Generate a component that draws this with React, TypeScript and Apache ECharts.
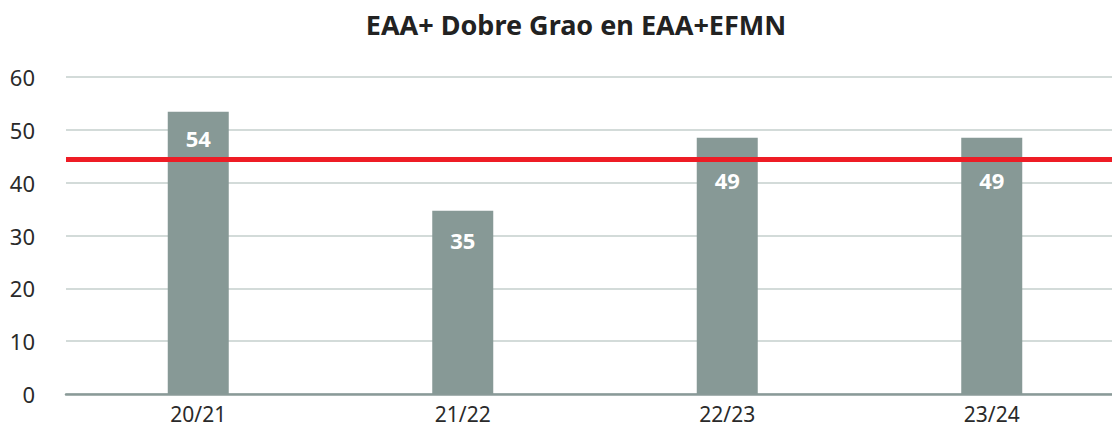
import React, { useEffect, useRef } from "react";
import * as echarts from "echarts";

const title = "EAA+ Dobre Grao en EAA+EFMN";
const categories = ["20/21", "21/22", "22/23", "23/24"];
const values = [53.4, 34.7, 48.5, 48.5];
const labels = ["54", "35", "49", "49"];
const labelDistances = [15, 18, 31, 31];
const referenceValue = 44.5;
const yTicks = { min: 0, max: 60, interval: 10 };

export default function App() {
  const ref = useRef<HTMLDivElement>(null);
  useEffect(() => {
    const chart = echarts.init(ref.current!, null, { renderer: "svg" });
    const font = "'Noto Sans', 'Open Sans', sans-serif";
    chart.setOption({
      animation: false,
      title: {
        text: title,
        left: 571,
        top: 6,
        textAlign: "center",
        textStyle: { fontFamily: font, fontSize: 27, fontWeight: "bold", color: "#222" },
      },
      grid: { left: 66, width: 1058, top: 77, bottom: 36, outerBoundsMode: "none", containLabel: false },
      xAxis: {
        type: "category",
        data: categories,
        axisTick: { show: false },
        axisLine: { lineStyle: { color: "#8a9a98", width: 2.5 } },
        axisLabel: { fontFamily: font, fontSize: 21, color: "#2a2a2a", margin: 9 },
      },
      yAxis: {
        type: "value",
        min: yTicks.min,
        max: yTicks.max,
        interval: yTicks.interval,
        axisLabel: { fontFamily: font, fontSize: 22, color: "#2a2a2a", margin: 31 },
        splitLine: { lineStyle: { color: "#c5cfcd", width: 1.5 } },
      },
      series: [
        {
          type: "bar",
          barWidth: 61,
          itemStyle: { color: "#879996" },
          data: values.map((v, i) => ({
            value: v,
            label: {
              show: true,
              position: "insideTop",
              distance: labelDistances[i],
              formatter: labels[i],
              color: "#fff",
              fontFamily: font,
              fontSize: 22,
              fontWeight: "bold",
            },
          })),
          markLine: {
            silent: true,
            symbol: ["none", "none"],
            label: { show: false },
            lineStyle: { color: "#ee1c25", width: 5, type: "solid" },
            data: [{ yAxis: referenceValue }],
          },
        },
      ],
    });
    return () => chart.dispose();
  }, []);
  return (
    <div
      ref={ref}
      style={{ position: "absolute", left: 0, top: 0, width: 1112, height: 430, overflow: "hidden" }}
    />
  );
}
